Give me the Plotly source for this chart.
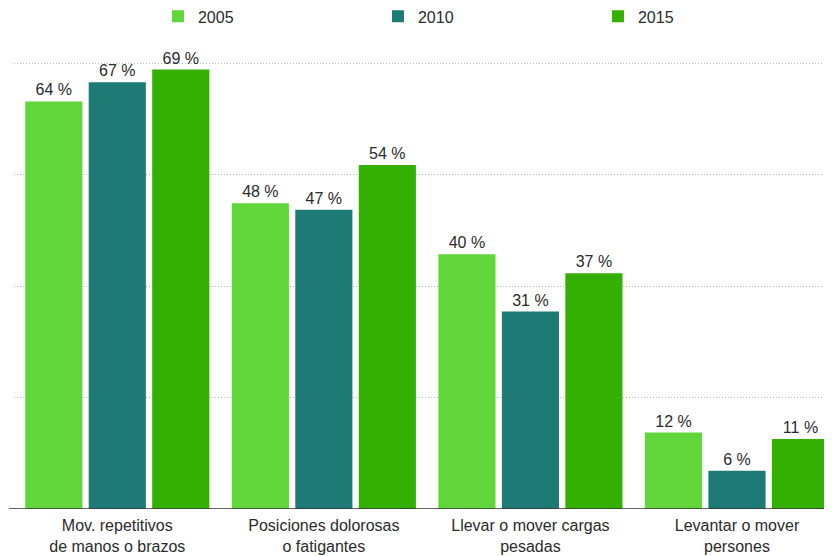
import plotly.graph_objects as go

categories = ["Mov. repetitivos<br>de manos o brazos", "Posiciones dolorosas<br>o fatigantes",
              "Llevar o mover cargas<br>pesadas", "Levantar o mover<br>persones"]
years = ["2005", "2010", "2015"]
v2005 = [64, 48, 40, 12]
v2010 = [67, 47, 31, 6]
v2015 = [69, 54, 37, 11]
colors = ["#60d63a", "#1d7a75", "#33b002"]

fig = go.Figure()
for name, vals, col in zip(years, [v2005, v2010, v2015], colors):
    fig.add_trace(go.Bar(
        x=list(range(len(categories))), y=vals, name=name,
        marker=dict(color=col, line=dict(width=0)),
        texttemplate="%{y} %", textposition="outside",
        textfont=dict(size=16, color="#2b2b2b"),
        cliponaxis=False,
    ))

fig.update_layout(
    width=824, height=548,
    margin=dict(l=6, r=0, t=52, b=47, autoexpand=False),
    paper_bgcolor="white", plot_bgcolor="white",
    font=dict(family="Liberation Sans, Arial, Helvetica, sans-serif", size=16, color="#2b2b2b"),
    barmode="group", bargap=0.078, bargroupgap=0.1,
    showlegend=True,
    legend=dict(orientation="h", x=0.176, xanchor="left", y=1.097, yanchor="middle",
                entrywidth=175, entrywidthmode="pixels",
                font=dict(size=16, color="#2b2b2b"), itemwidth=30),
    xaxis=dict(tickmode="array", tickvals=list(range(4)), ticktext=categories,
               range=[-0.5, 3.46], showgrid=False, zeroline=False, showline=False,
               ticks="", tickfont=dict(size=16, color="#2b2b2b"), automargin=False,
               ticklabelstandoff=5),
    yaxis=dict(range=[0, 70.5], tickvals=[17.5, 35, 52.5, 70], showticklabels=False,
               showgrid=True, gridcolor="#b8b8b8", griddash="1px,2px", gridwidth=1,
               zeroline=False, showline=False, automargin=False),
)
fig.add_shape(type="line", xref="paper", yref="y", x0=-0.006, x1=1, y0=0, y1=0,
              line=dict(color="#333333", width=1.5))

fig.write_html("out.html")
